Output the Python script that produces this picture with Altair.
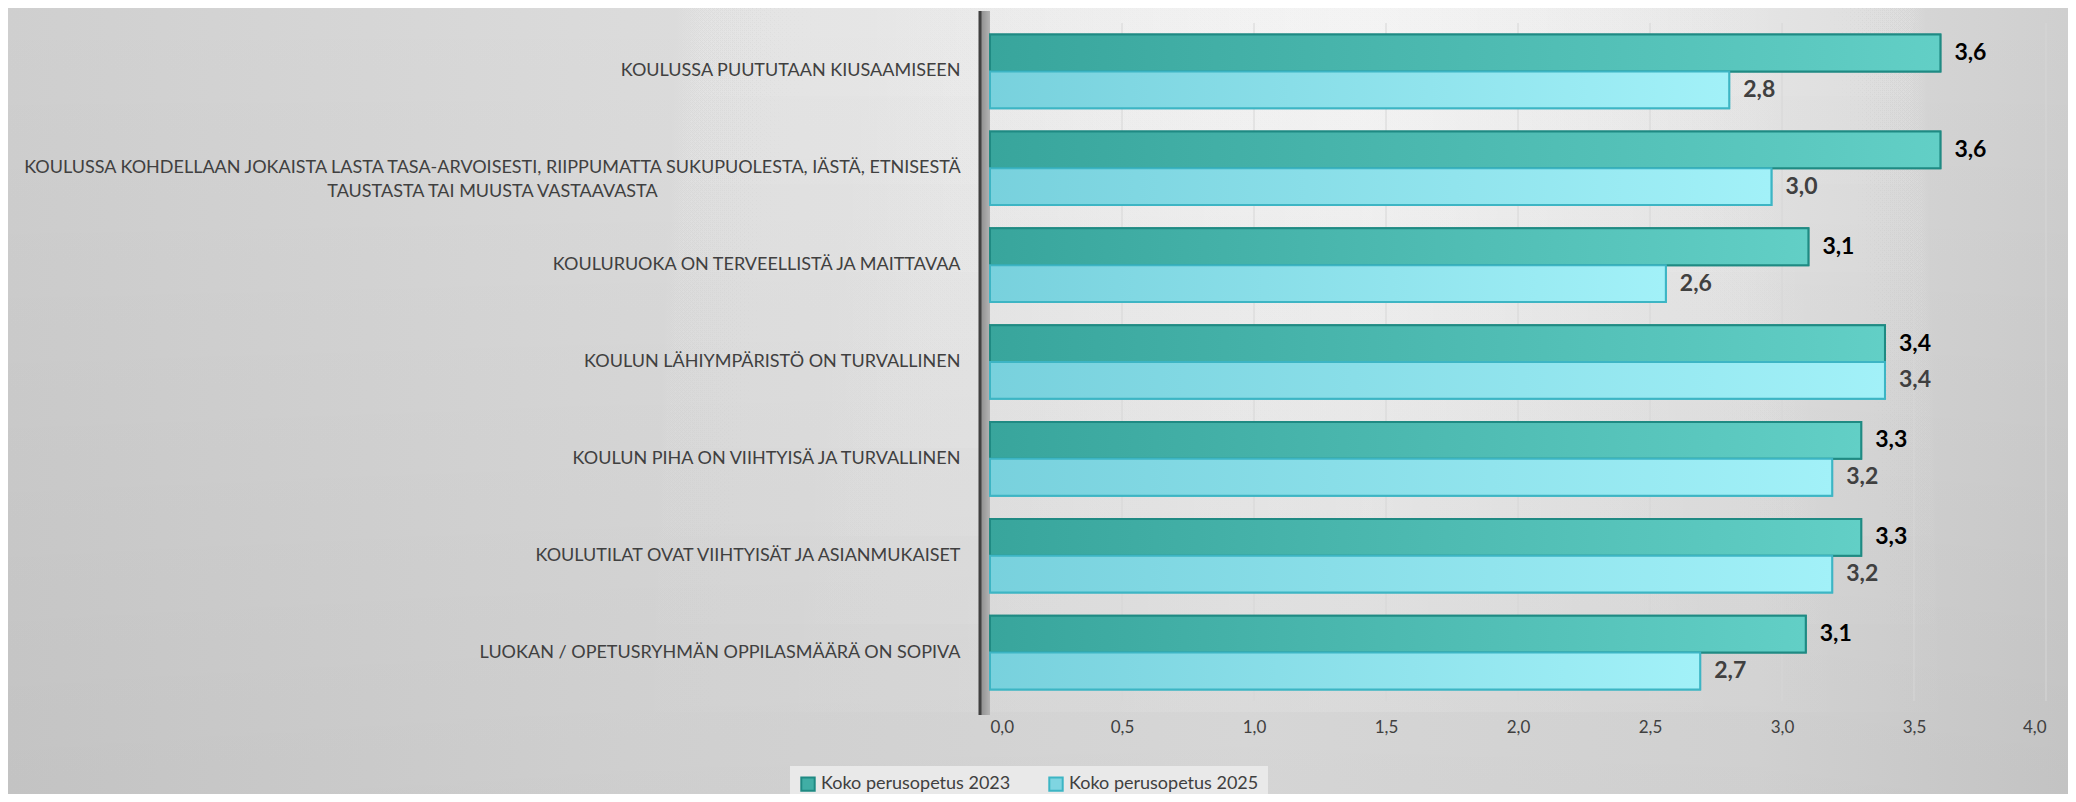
import altair as alt
import pandas as pd

categories = [
    "KOULUSSA PUUTUTAAN KIUSAAMISEEN",
    "KOULUSSA KOHDELLAAN JOKAISTA LASTA TASA-ARVOISESTI, RIIPPUMATTA SUKUPUOLESTA, IÄSTÄ, ETNISESTÄ|TAUSTASTA TAI MUUSTA VASTAAVASTA",
    "KOULURUOKA ON TERVEELLISTÄ JA MAITTAVAA",
    "KOULUN LÄHIYMPÄRISTÖ ON TURVALLINEN",
    "KOULUN PIHA ON VIIHTYISÄ JA TURVALLINEN",
    "KOULUTILAT OVAT VIIHTYISÄT JA ASIANMUKAISET",
    "LUOKAN / OPETUSRYHMÄN OPPILASMÄÄRÄ ON SOPIVA",
]
series = ["Koko perusopetus 2023", "Koko perusopetus 2025"]
values_2023 = [3.6, 3.6, 3.1, 3.39, 3.3, 3.3, 3.09]
values_2025 = [2.8, 2.96, 2.56, 3.39, 3.19, 3.19, 2.69]
labels_2023 = ["3,6", "3,6", "3,1", "3,4", "3,3", "3,3", "3,1"]
labels_2025 = ["2,8", "3,0", "2,6", "3,4", "3,2", "3,2", "2,7"]
x_ticks = [0.0, 0.5, 1.0, 1.5, 2.0, 2.5, 3.0, 3.5, 4.0]

rows = []
for c, v, l in zip(categories, values_2023, labels_2023):
    rows.append({"category": c, "series": series[0], "value": v, "label": l})
for c, v, l in zip(categories, values_2025, labels_2025):
    rows.append({"category": c, "series": series[1], "value": v, "label": l})
df = pd.DataFrame(rows)

W, H = 1056, 678
PAD_L, PAD_T, PAD_R = 982, 15, 22
PAD_B = 786 - PAD_T - H
FONT = "Lato"
CAT_FS = 18

y_enc = alt.Y(
    "category:N",
    sort=categories,
    scale=alt.Scale(paddingInner=0.24, paddingOuter=0.12),
    axis=alt.Axis(
        title=None,
        labelExpr="split(datum.label, '|')",
        labelFontSize=CAT_FS,
        labelFont=FONT,
        labelColor="#404040",
        labelLineHeight=24,
        labelAlign={"condition": {"test": "indexof(datum.value, '|') >= 0", "value": "center"}, "value": "right"},
        labelPadding={"condition": {"test": "indexof(datum.value, '|') >= 0", "value": 498}, "value": 30},
        labelLimit=1000,
        ticks=False,
        domain=False,
        grid=False,
        zindex=1,
    ),
)
yoff_enc = alt.YOffset("series:N", sort=series, scale=alt.Scale(paddingInner=0, paddingOuter=0))
x_enc = alt.X(
    "value:Q",
    scale=alt.Scale(domain=[0, 4]),
    axis=alt.Axis(
        title=None,
        values=x_ticks,
        labelExpr="replace(format(datum.value, '.1f'), '.', ',')",
        labelFontSize=17,
        labelFont=FONT,
        labelColor="#404040",
        labelPadding=18,
        ticks=False,
        domain=False,
        grid=False,
        zindex=1,
    ),
)

one = pd.DataFrame({"a": [0]})


def full_rect(grad, y2=H + PAD_B):
    return alt.Chart(one).mark_rect(color=grad).encode(
        x=alt.value(-PAD_L), x2=alt.value(W + PAD_R),
        y=alt.value(-PAD_T), y2=alt.value(y2),
    )


bg_layers = [
    full_rect({
        "gradient": "linear", "x1": 0, "x2": 1, "y1": 0, "y2": 0,
        "stops": [
            {"offset": 0.0, "color": "#cfcfcf"},
            {"offset": 0.3, "color": "#dbdbdb"},
            {"offset": 0.6, "color": "#e2e2e2"},
            {"offset": 0.85, "color": "#dcdcdc"},
            {"offset": 1.0, "color": "#cfcfcf"},
        ],
    }),
    full_rect({
        "gradient": "linear", "x1": 0, "x2": 0, "y1": 0, "y2": 1,
        "stops": [
            {"offset": 0.0, "color": "rgba(0,0,0,0)"},
            {"offset": 1.0, "color": "rgba(0,0,0,0.06)"},
        ],
    }),
]
for k in range(1, 9):
    bg_layers.append(full_rect({
        "gradient": "linear", "x1": 0, "x2": 1, "y1": 0, "y2": 0,
        "stops": [
            {"offset": 0.0, "color": "rgba(255,255,255,0)"},
            {"offset": 0.28, "color": "rgba(255,255,255,0)"},
            {"offset": 0.66, "color": "rgba(255,255,255,0.12)"},
            {"offset": 0.96, "color": "rgba(255,255,255,0)"},
            {"offset": 1.0, "color": "rgba(255,255,255,0)"},
        ],
    }, y2=-PAD_T + 88 * k))

grid = alt.Chart(pd.DataFrame({"tick": x_ticks[1:]})).mark_rule(
    color="#d6d6d6", strokeWidth=1
).encode(x=alt.X("tick:Q", scale=alt.Scale(domain=[0, 4])))

wall = alt.Chart(one).mark_rect(
    color={
        "gradient": "linear", "x1": 0, "x2": 1, "y1": 0, "y2": 0,
        "stops": [{"offset": 0, "color": "#8c8c8c"}, {"offset": 1, "color": "#b4b4b4"}],
    }
).encode(x=alt.value(-10), x2=alt.value(0), y=alt.value(-12), y2=alt.value(H + 14))

wall_edge = alt.Chart(one).mark_rule(
    color="#404040", strokeWidth=3
).encode(x=alt.value(-10), y=alt.value(-12), y2=alt.value(H + 14))

bars = alt.Chart(df).mark_bar(strokeWidth=2).encode(
    x=x_enc,
    y=y_enc,
    yOffset=yoff_enc,
    color=alt.Color(
        "series:N",
        sort=series,
        scale=alt.Scale(domain=series, range=["#40aea5", "#7fd5e1"]),
        legend=alt.Legend(
            title=None,
            orient="none",
            legendX=-200,
            legendY=743,
            direction="horizontal",
            fillColor="#e9e9e9",
            padding=9,
            labelFontSize=18,
            labelFont=FONT,
            labelColor="#404040",
            labelLimit=400,
            symbolType="square",
            symbolSize=180,
            symbolStrokeWidth=2,
            symbolStrokeColor="#2a9a94",
            columnPadding=34,
            labelOffset=4,
        ),
    ),
    stroke=alt.Stroke(
        "series:N",
        sort=series,
        scale=alt.Scale(domain=series, range=["#1f8a83", "#3db5c4"]),
        legend=None,
    ),
)


def face(name, c0, c1, edge):
    return alt.Chart(df).transform_filter(f"datum.series == '{name}'").mark_bar(
        strokeWidth=2,
        stroke=edge,
        color={
            "gradient": "linear", "x1": 0, "x2": 1, "y1": 0, "y2": 0,
            "stops": [{"offset": 0, "color": c0}, {"offset": 1, "color": c1}],
        },
    ).encode(
        x=alt.X("value:Q"),
        y=alt.Y("category:N", sort=categories),
        yOffset=alt.YOffset("series:N", sort=series),
    )


face23 = face(series[0], "#38a59c", "#62cfc6", "#1f8a83")
face25 = face(series[1], "#78d1dd", "#a2f1f8", "#3db5c4")

texts = alt.Chart(df).mark_text(
    align="left", baseline="middle", dx=14, fontSize=23, fontWeight="bold", font=FONT
).encode(
    x=alt.X("value:Q"),
    y=alt.Y("category:N", sort=categories),
    yOffset=alt.YOffset("series:N", sort=series),
    text="label:N",
    color=alt.condition(f"datum.series == '{series[0]}'", alt.value("#000000"), alt.value("#404040")),
)

chart = alt.layer(*bg_layers, grid, wall, wall_edge, bars, face23, face25, texts).properties(
    width=W,
    height=H,
    autosize=alt.AutoSizeParams(type="none"),
    padding={"left": PAD_L, "top": PAD_T, "right": PAD_R, "bottom": PAD_B},
    background="#d8d8d8",
).configure_view(stroke=None)

chart.save("out.html", embed_options={"renderer": "svg", "actions": False})
